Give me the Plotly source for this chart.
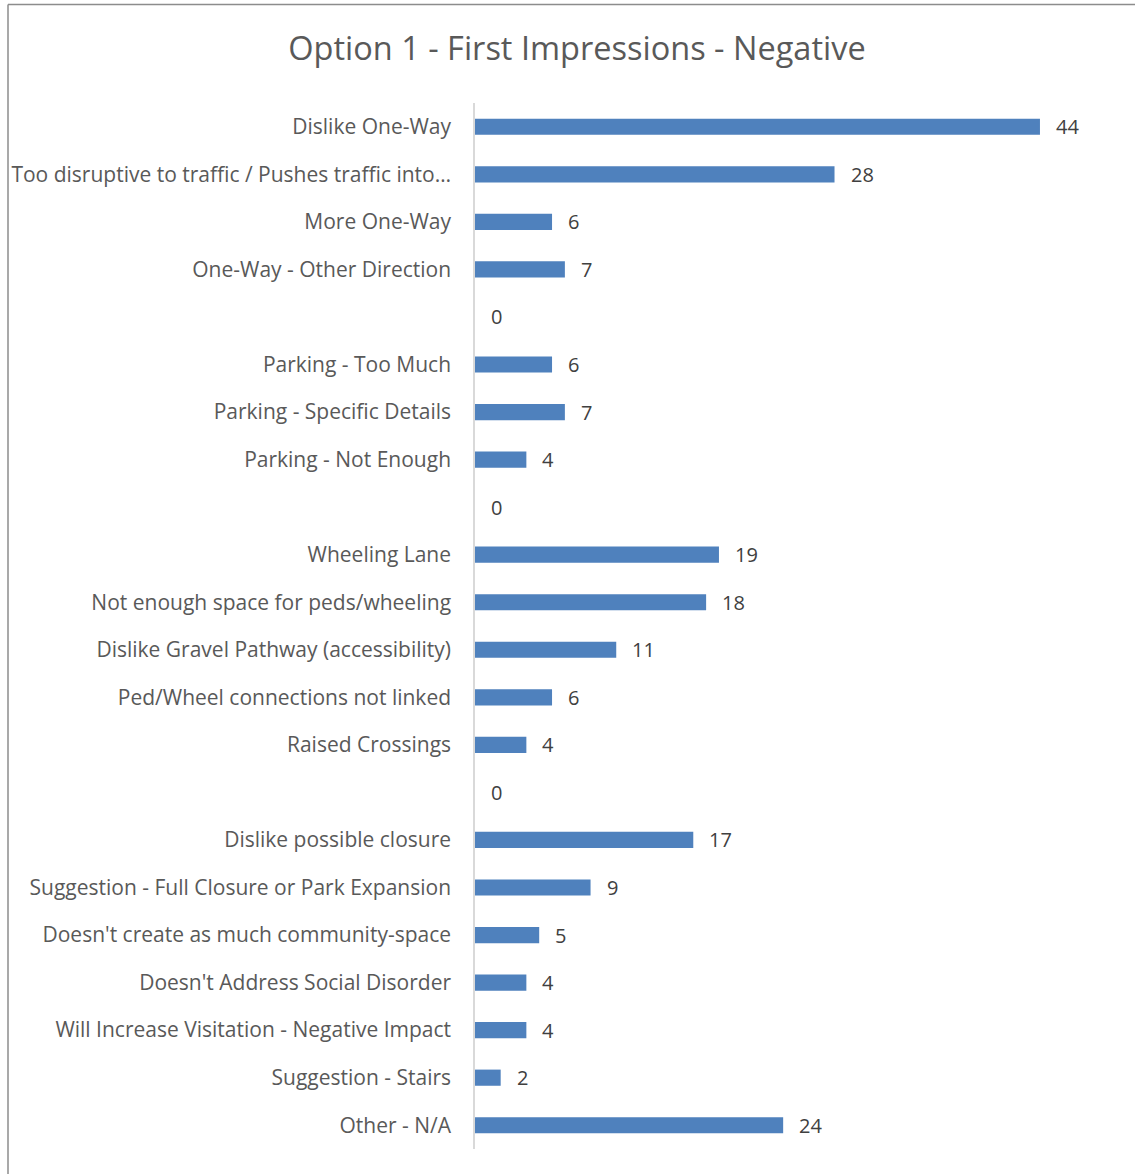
import plotly.graph_objects as go

# Survey responses: negative first impressions of Option 1 (top to bottom)
categories = [
    "Dislike One-Way",
    "Too disruptive to traffic / Pushes traffic into…",
    "More One-Way",
    "One-Way - Other Direction",
    "",
    "Parking - Too Much",
    "Parking - Specific Details",
    "Parking - Not Enough",
    "",
    "Wheeling Lane",
    "Not enough space for peds/wheeling",
    "Dislike Gravel Pathway (accessibility)",
    "Ped/Wheel connections not linked",
    "Raised Crossings",
    "",
    "Dislike possible closure",
    "Suggestion - Full Closure or Park Expansion",
    "Doesn't create as much community-space",
    "Doesn't Address Social Disorder",
    "Will Increase Visitation - Negative Impact",
    "Suggestion - Stairs",
    "Other - N/A",
]
counts = [44, 28, 6, 7, 0, 6, 7, 4, 0, 19, 18, 11, 6, 4, 0, 17, 9, 5, 4, 4, 2, 24]

positions = list(range(len(categories)))

W, H = 1135, 1174
ML, MR, MT, MB = 475, 18, 103, 25
PW = W - ML - MR
PH = H - MT - MB

fig = go.Figure(
    go.Bar(
        x=counts,
        y=positions,
        orientation="h",
        marker=dict(color="#4f81bd", line=dict(width=0)),
        width=0.34,
        hoverinfo="x+y",
    )
)

# value labels just past each bar end
for p, v in zip(positions, counts):
    fig.add_annotation(
        x=v, y=p, text=str(v), showarrow=False,
        xanchor="left", xshift=14, yshift=0,
        font=dict(family="Open Sans", size=20, color="#404040"),
    )

# frame lines at the top and left edge
fig.add_shape(type="line", xref="paper", yref="paper",
              x0=(8 - ML) / PW, x1=(W + 5 - ML) / PW,
              y0=1 + (MT - 4.5) / PH, y1=1 + (MT - 4.5) / PH,
              line=dict(color="#8c8c8c", width=1.5))
fig.add_shape(type="line", xref="paper", yref="paper",
              x0=(8 - ML) / PW, x1=(8 - ML) / PW,
              y0=-(MB + 5) / PH, y1=1 + (MT - 4.5) / PH,
              line=dict(color="#8c8c8c", width=1.5))

fig.update_layout(
    width=W, height=H,
    margin=dict(l=ML, r=MR, t=MT, b=MB),
    paper_bgcolor="white", plot_bgcolor="white",
    showlegend=False,
    title=dict(
        text="Option 1 - First Impressions - Negative",
        x=577 / W, xanchor="center", xref="container",
        y=1 - 49 / H, yanchor="middle", yref="container",
        font=dict(family="Open Sans", size=32.5, color="#595959"),
    ),
    xaxis=dict(range=[0, 50], visible=False, fixedrange=True),
    yaxis=dict(
        tickmode="array", tickvals=positions, ticktext=categories,
        range=[len(categories) - 0.5, -0.5],
        showline=True, linecolor="#d9d9d9", linewidth=1.5,
        showgrid=False, zeroline=False, ticks="",
        ticklabelstandoff=18,
        tickfont=dict(family="Open Sans", size=21, color="#595959"),
    ),
)

fig.write_html("out.html")
